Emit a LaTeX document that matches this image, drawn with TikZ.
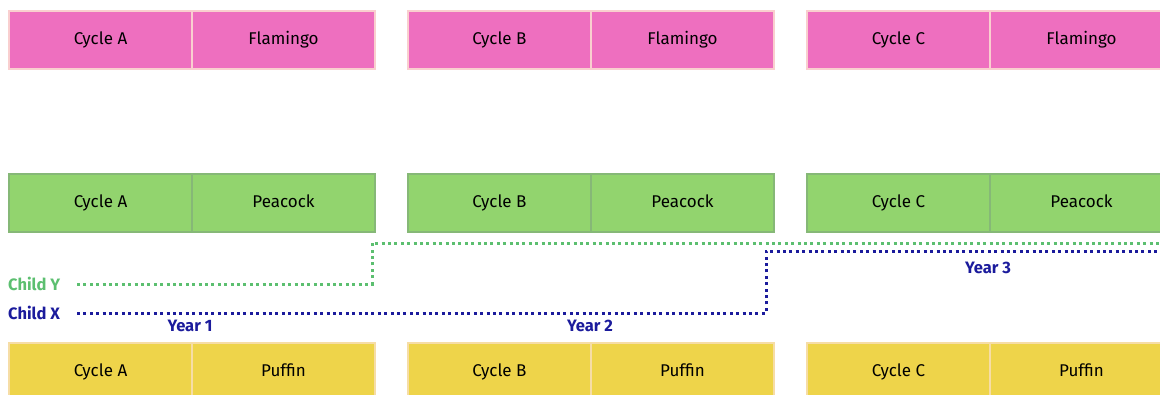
\documentclass[tikz,border=0pt]{standalone}
\usepackage{fontspec}
\setmainfont{Fira Sans}
\definecolor{pinkfill}{HTML}{EE6FBF}
\definecolor{pinkline}{HTML}{F9CFCF}
\definecolor{greenfill}{HTML}{92D46E}
\definecolor{greenline}{HTML}{86B877}
\definecolor{yellowfill}{HTML}{EED44A}
\definecolor{yellowline}{HTML}{F6DDA6}
\definecolor{childy}{HTML}{5CBF70}
\definecolor{childx}{HTML}{1B1B9C}
\begin{document}
\begin{tikzpicture}[x=1pt,y=-1pt,
  cell/.style={draw, line width=2pt, minimum height=58pt, minimum width=183pt, anchor=north west, inner sep=0pt, text height=12pt, text depth=3.5pt, font=\fontsize{17}{17}\selectfont, text=black},
  pinkcell/.style={cell, fill=pinkfill, draw=pinkline},
  greencell/.style={cell, fill=greenfill, draw=greenline},
  yellowcell/.style={cell, fill=yellowfill, draw=yellowline},
  dotline/.style={line width=3pt, dash pattern=on 3pt off 3.4pt},
  lbl/.style={font=\bfseries\fontsize{16.5}{16.5}\selectfont, inner sep=0pt}
]
\useasboundingbox (0,0) rectangle (1160,394);
% pink row
\node[pinkcell] (pa1) at (8,10) {Cycle A};
\node[pinkcell] (pa2) at (191,10) {Flamingo};
\node[pinkcell] (pb1) at (407,10) {Cycle B};
\node[pinkcell] (pb2) at (590,10) {Flamingo};
\node[pinkcell] (pc1) at (806,10) {Cycle C};
\node[pinkcell] (pc2) at (989,10) {Flamingo};
% green row
\node[greencell] (ga1) at (8,173) {Cycle A};
\node[greencell] (ga2) at (191,173) {Peacock};
\node[greencell] (gb1) at (407,173) {Cycle B};
\node[greencell] (gb2) at (590,173) {Peacock};
\node[greencell] (gc1) at (806,173) {Cycle C};
\node[greencell] (gc2) at (989,173) {Peacock};
% yellow row
\node[yellowcell] (ya1) at (8,342) {Cycle A};
\node[yellowcell] (ya2) at (191,342) {Puffin};
\node[yellowcell] (yb1) at (407,342) {Cycle B};
\node[yellowcell] (yb2) at (590,342) {Puffin};
\node[yellowcell] (yc1) at (806,342) {Cycle C};
\node[yellowcell] (yc2) at (989,342) {Puffin};
% labels
\node[lbl, text=childy, anchor=west] (cy) at (8,284) {Child Y};
\node[lbl, text=childx, anchor=west] (cx) at (8,313) {Child X};
\node[lbl, text=childx] (y1) at (190,326) {Year 1};
\node[lbl, text=childx] (y2) at (590,326) {Year 2};
\node[lbl, text=childx] (y3) at (988,268) {Year 3};
% coordinates
\coordinate (ys) at (77,284);
\coordinate (yk) at (372,284);
\coordinate (ye) at (1160,243);
\coordinate (xs) at (77,313);
\coordinate (xk) at (766,313);
\coordinate (xe) at (1160,251);
\draw[dotline, draw=childy] (ys) -- (yk) |- (ye);
\draw[dotline, draw=childx] (xs) -- (xk) |- (xe);
\end{tikzpicture}
\end{document}
